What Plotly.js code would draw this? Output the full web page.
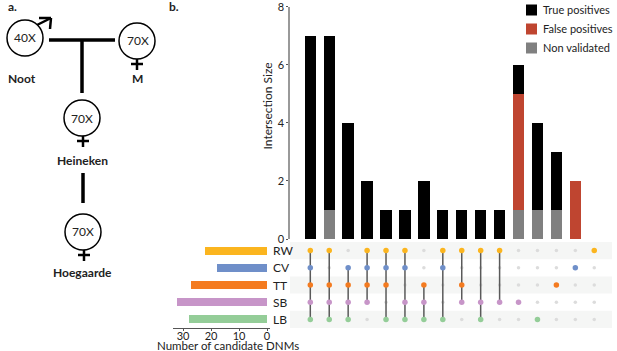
<!DOCTYPE html>
<html><head><meta charset="utf-8">
<script src="https://cdn.plot.ly/plotly-3.0.1.min.js"></script>
<style>html,body{margin:0;padding:0;background:#fff}#c{width:617px;height:351px}</style>
</head><body><div id="c"></div>
<script>
const W=617,H=351;
const sets=["RW","CV","TT","SB","LB"];
const setSizes=[22,18,27,32,28];
const setColors=["#fbb51f","#6f8fc9","#f47b20","#c795c8","#94cd98"];
const columns=[
 ["RW","CV","TT","SB","LB"],["RW","TT","SB","LB"],["CV","TT","SB","LB"],["RW","CV","TT","SB"],
 ["RW","CV","TT","LB"],["RW","CV","SB","LB"],["TT","SB","LB"],["RW","CV","LB"],
 ["RW","TT","SB"],["RW","SB","LB"],["RW","SB"],["SB"],["LB"],["TT"],["CV"],["RW"]];
const nonValidated=[0,1,0,0,0,0,0,0,0,0,0,1,1,1,0,0];
const falsePositives=[0,0,0,0,0,0,0,0,0,0,0,4,0,0,2,0];
const truePositives=[7,6,4,2,1,1,2,1,1,1,1,1,3,2,0,0];
const legendItems=[["True positives","#000000"],["False positives","#bf4530"],["Non validated","#808080"]];
const idx=columns.map((_,i)=>i);
const px=(v)=>v/W, py=(v)=>1-v/H;
const font="Lato, 'Open Sans', sans-serif";
const txt="#222222";

const traces=[
 {type:"bar",name:"Non validated",x:idx,y:nonValidated,marker:{color:"#808080"},width:0.6,showlegend:false},
 {type:"bar",name:"False positives",x:idx,y:falsePositives,marker:{color:"#bf4530"},width:0.6,showlegend:false},
 {type:"bar",name:"True positives",x:idx,y:truePositives,marker:{color:"#000000"},width:0.6,showlegend:false}
];
const gx=[],gy=[];
idx.forEach(i=>sets.forEach((s,r)=>{if(!columns[i].includes(s)){gx.push(i);gy.push(r);}}));
traces.push({type:"scatter",mode:"markers",x:gx,y:gy,xaxis:"x2",yaxis:"y2",showlegend:false,hoverinfo:"skip",
 marker:{size:3.5,color:"#dcdcdc"}});
const lx=[],ly=[];
columns.forEach((c,i)=>{const rows=c.map(s=>sets.indexOf(s));if(rows.length>1){lx.push(i,i,null);ly.push(Math.min(...rows),Math.max(...rows),null);}});
traces.push({type:"scatter",mode:"lines",x:lx,y:ly,xaxis:"x2",yaxis:"y2",showlegend:false,hoverinfo:"skip",
 line:{color:"#5a5a5a",width:1.5}});
sets.forEach((s,r)=>{
 const xs=idx.filter(i=>columns[i].includes(s));
 traces.push({type:"scatter",mode:"markers",x:xs,y:xs.map(()=>r),xaxis:"x2",yaxis:"y2",showlegend:false,
  name:s,marker:{size:5.5,color:setColors[r]}});
});
traces.push({type:"bar",orientation:"h",x:setSizes,y:sets.map((_,r)=>r),xaxis:"x3",yaxis:"y2",showlegend:false,
 width:0.47,marker:{color:setColors}});

const shapes=[],annotations=[];
const L=(x0,y0,x1,y1,w,c)=>shapes.push({type:"line",xref:"paper",yref:"paper",x0:px(x0),y0:py(y0),x1:px(x1),y1:py(y1),line:{color:c||"#000",width:w}});
const C=(x,y,r)=>shapes.push({type:"circle",xref:"paper",yref:"paper",x0:px(x-r),x1:px(x+r),y0:py(y-r),y1:py(y+r),line:{color:"#000",width:1.5},fillcolor:"#fff"});
const T=(x,y,t,o)=>annotations.push(Object.assign({xref:"paper",yref:"paper",x:px(x),y:py(y),text:t,showarrow:false,
  xanchor:"center",yanchor:"middle",font:{family:font,size:12,color:txt}},o||{}));
L(49,40,115,40,3.5); L(82,40,82,93,3.5); L(83,173,83,203,3.5);
L(37,25,51,18,2.5); L(39,18,51,18,2.5); L(51,18,50,29,2.5);
[[25,38],[137,41],[82,118],[83,232]].forEach(c=>C(c[0],c[1],18));
[[137,59],[83,136],[84,250]].forEach(c=>{L(c[0],c[1],c[0],c[1]+11,2.5);L(c[0]-6,c[1]+5,c[0]+6,c[1]+5,2.5);});
T(25,38,"40X");T(138,41,"70X");T(82,118,"70X");T(83,232,"70X");
T(22,79,"<b>Noot</b>");T(137,79,"<b>M</b>");T(82,160,"<b>Heineken</b>");T(82,272,"<b>Hoegaarde</b>");
T(12,6,"<b>a.</b>");T(174,6,"<b>b.</b>");
sets.forEach((s,r)=>{ if(r%2===0) shapes.push({type:"rect",layer:"below",xref:"x2 domain",yref:"y2",x0:0,x1:1,y0:r-0.5,y1:r+0.5,line:{width:0},fillcolor:"#f5f6f5"}); });
sets.forEach((s,r)=>annotations.push({xref:"paper",yref:"y2",x:px(271),y:r,text:s,showarrow:false,xanchor:"left",yanchor:"middle",font:{family:font,size:12,color:txt}}));
legendItems.forEach((it,i)=>{
 const y=10+19*i;
 shapes.push({type:"rect",xref:"paper",yref:"paper",x0:px(526),x1:px(537),y0:py(y-5.5),y1:py(y+5.5),line:{width:0},fillcolor:it[1]});
 T(541,y,it[0],{xanchor:"left",font:{family:font,size:11,color:txt}});
});
T(228,345.5,"Number of candidate DNMs",{font:{family:font,size:11.5,color:txt}});
T(267,106.5,"Intersection Size",{textangle:-90});

const xr=[(290-310.3)/18.93,(612-310.3)/18.93];
const layout={
 width:W,height:H,margin:{l:0,r:0,t:0,b:0},paper_bgcolor:"#fff",plot_bgcolor:"rgba(0,0,0,0)",
 barmode:"stack",font:{family:font,size:11,color:txt},bargap:0.4,showlegend:false,
 xaxis:{domain:[px(290),px(612)],range:xr,visible:false,fixedrange:true},
 yaxis:{domain:[py(239),py(6.7)],range:[0,8],tickvals:[0,2,4,6,8],ticks:"outside",ticklen:2,tickcolor:"#555",
  showgrid:false,zeroline:false,showline:true,linecolor:"#999",linewidth:1.5,tickfont:{size:11},ticklabeloverflow:"allow"},
 xaxis2:{domain:[px(290),px(612)],range:xr,visible:false,anchor:"y2"},
 yaxis2:{domain:[py(328),py(242)],range:[4.5,-0.5],visible:false,anchor:"x2"},
 xaxis3:{domain:[px(173),px(270)],range:[94/2.8,-3/2.8],anchor:"y2",side:"bottom",tickvals:[0,10,20,30],ticks:"outside",ticklen:2,
  tickcolor:"#555",showgrid:false,zeroline:false,showline:true,linecolor:"#555",linewidth:1,tickfont:{size:11},ticklabelstandoff:-4},
 shapes,annotations
};
Plotly.newPlot("c",traces,layout,{displayModeBar:false,responsive:false});
</script></body></html>
